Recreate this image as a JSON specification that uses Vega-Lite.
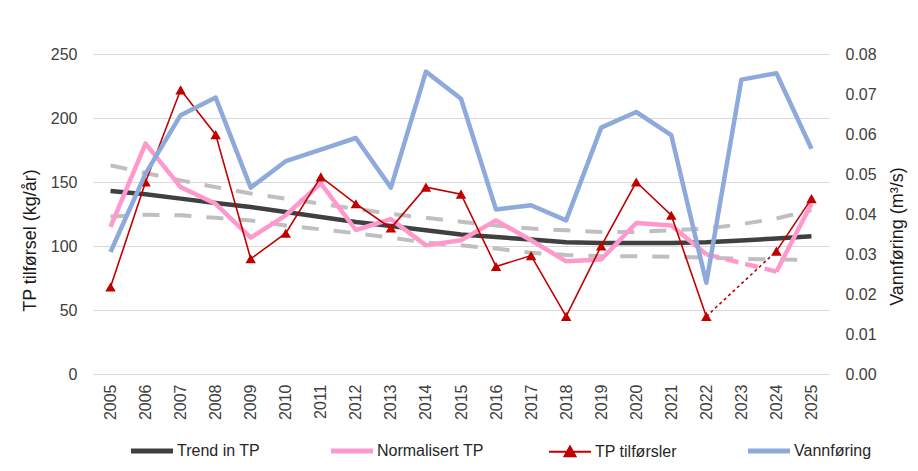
{
  "$schema": "https://vega.github.io/schema/vega-lite/v6.json",
  "autosize": "none",
  "width": 736,
  "height": 320,
  "padding": {"left": 93, "top": 54, "right": 89, "bottom": 97},
  "background": "white",
  "config": {
    "font": "Liberation Sans",
    "view": {"stroke": null},
    "axis": {"labelFont": "Liberation Sans", "titleFont": "Liberation Sans", "labelFontSize": 16, "titleFontSize": 18, "titleFontWeight": "normal", "labelColor": "#404040", "titleColor": "#1a1a1a"},
    "axisLeft": {"titleX": -63, "titleY": 186, "titleAngle": -90, "titleAlign": "center", "titleBaseline": "middle"},
    "axisRight": {"titleX": 68, "titleY": 182, "titleAngle": -90, "titleAlign": "center", "titleBaseline": "middle"}
  },
  "data": {
    "values": [
      {"year": "2005", "trend": 143, "upper": 163, "lower": 123, "norm": 115, "tp": 68, "flow": 0.0305},
      {"year": "2006", "trend": 140.4, "upper": 157, "lower": 124.5, "norm": 180, "tp": 150, "flow": 0.0501},
      {"year": "2007", "trend": 137, "upper": 151.3, "lower": 124, "norm": 146, "tp": 222, "flow": 0.0647},
      {"year": "2008", "trend": 133.6, "upper": 146, "lower": 122, "norm": 133, "tp": 187, "flow": 0.0691},
      {"year": "2009", "trend": 130.5, "upper": 141, "lower": 120, "norm": 106.5, "tp": 90, "flow": 0.0466},
      {"year": "2010", "trend": 126.6, "upper": 137, "lower": 116, "norm": 124, "tp": 110, "flow": 0.0532},
      {"year": "2011", "trend": 122.7, "upper": 133, "lower": 113, "norm": 149, "tp": 154, "flow": 0.0561},
      {"year": "2012", "trend": 118.8, "upper": 129, "lower": 110, "norm": 112.5, "tp": 133, "flow": 0.059},
      {"year": "2013", "trend": 115.7, "upper": 125, "lower": 106.5, "norm": 121, "tp": 114, "flow": 0.0466},
      {"year": "2014", "trend": 112.3, "upper": 122, "lower": 102.7, "norm": 100.5, "tp": 146, "flow": 0.0756},
      {"year": "2015", "trend": 109, "upper": 119, "lower": 100.5, "norm": 104.5, "tp": 140.5, "flow": 0.0688},
      {"year": "2016", "trend": 107, "upper": 116, "lower": 98, "norm": 120, "tp": 84, "flow": 0.0411},
      {"year": "2017", "trend": 105, "upper": 113.6, "lower": 94.7, "norm": 104.5, "tp": 92.5, "flow": 0.0422},
      {"year": "2018", "trend": 103, "upper": 112.3, "lower": 93, "norm": 88, "tp": 45, "flow": 0.0384},
      {"year": "2019", "trend": 102.4, "upper": 111, "lower": 92, "norm": 89.5, "tp": 100, "flow": 0.0616},
      {"year": "2020", "trend": 102.4, "upper": 111, "lower": 92, "norm": 118, "tp": 150, "flow": 0.0655},
      {"year": "2021", "trend": 102.4, "upper": 112.3, "lower": 91.5, "norm": 116, "tp": 124, "flow": 0.0597},
      {"year": "2022", "trend": 103, "upper": 113.6, "lower": 91, "norm": 93.5, "tp": 45, "flow": 0.0228},
      {"year": "2023", "trend": 104.3, "upper": 117, "lower": 90, "norm": null, "tp": null, "flow": 0.0736},
      {"year": "2024", "trend": 105.8, "upper": 121.5, "lower": 89.5, "norm": 80, "tp": 96, "flow": 0.0752},
      {"year": "2025", "trend": 107.6, "upper": 128, "lower": 89, "norm": 133, "tp": 137, "flow": 0.0563}
    ]
  },
  "encoding": {
    "x": {
      "field": "year", "type": "ordinal",
      "scale": {"type": "point", "padding": 0.5},
      "axis": {"title": null, "labelAngle": -90, "ticks": false, "domain": false, "grid": false, "labelPadding": 10}
    }
  },
  "layer": [
    {
      "layer": [
        {
          "mark": {"type": "line", "strokeWidth": 4, "strokeDash": [17, 15], "color": "#bfbfbf"},
          "encoding": {
            "y": {"field": "upper", "type": "quantitative", "title": "TP tilførsel (kg/år)", "scale": {"domain": [0, 250], "nice": false},
              "axis": {"values": [0, 50, 100, 150, 200, 250], "grid": true, "gridColor": "#d9d9d9", "gridWidth": 1, "domain": false, "ticks": false, "tickSize": 0, "labelPadding": 16}}
          }
        },
        {
          "mark": {"type": "line", "strokeWidth": 4, "strokeDash": [17, 15], "color": "#bfbfbf"},
          "encoding": {"y": {"field": "lower", "type": "quantitative", "title": "TP tilførsel (kg/år)", "scale": {"domain": [0, 250], "nice": false}}}
        },
        {
          "mark": {"type": "line", "strokeWidth": 4.5, "strokeJoin": "round"},
          "encoding": {
            "y": {"field": "trend", "type": "quantitative", "title": "TP tilførsel (kg/år)", "scale": {"domain": [0, 250], "nice": false}},
            "color": {"datum": "Trend in TP"}
          }
        },
        {
          "mark": {"type": "line", "strokeWidth": 4.5, "strokeJoin": "round", "invalid": "break-paths-show-domains"},
          "encoding": {
            "y": {"field": "norm", "type": "quantitative", "title": "TP tilførsel (kg/år)", "scale": {"domain": [0, 250], "nice": false}},
            "color": {"datum": "Normalisert TP"}
          }
        },
        {
          "transform": [{"filter": "datum.year == '2022' || datum.year == '2024'"}],
          "mark": {"type": "line", "strokeWidth": 4.5, "strokeDash": [13, 7]},
          "encoding": {
            "y": {"field": "norm", "type": "quantitative", "title": "TP tilførsel (kg/år)", "scale": {"domain": [0, 250], "nice": false}},
            "color": {"datum": "Normalisert TP"}
          }
        },
        {
          "mark": {"type": "line", "strokeWidth": 1.6, "invalid": "break-paths-show-domains"},
          "encoding": {
            "y": {"field": "tp", "type": "quantitative", "title": "TP tilførsel (kg/år)", "scale": {"domain": [0, 250], "nice": false}},
            "color": {"datum": "TP tilførsler"}
          }
        },
        {
          "transform": [{"filter": "datum.year == '2022' || datum.year == '2024'"}],
          "mark": {"type": "line", "strokeWidth": 1.6, "strokeDash": [3, 3]},
          "encoding": {
            "y": {"field": "tp", "type": "quantitative", "title": "TP tilførsel (kg/år)", "scale": {"domain": [0, 250], "nice": false}},
            "color": {"datum": "TP tilførsler"}
          }
        },
        {
          "transform": [{"filter": "datum.tp != null"}],
          "mark": {"type": "point", "shape": "triangle-up", "filled": true, "size": 110, "opacity": 1},
          "encoding": {
            "y": {"field": "tp", "type": "quantitative", "title": "TP tilførsel (kg/år)", "scale": {"domain": [0, 250], "nice": false}},
            "color": {"datum": "TP tilførsler"}
          }
        }
      ]
    },
    {
      "mark": {"type": "line", "strokeWidth": 4.5, "strokeJoin": "round"},
      "encoding": {
        "y": {"field": "flow", "type": "quantitative", "title": "Vannføring (m³/s)",
          "scale": {"domain": [0, 0.08], "nice": false},
          "axis": {"orient": "right", "values": [0, 0.01, 0.02, 0.03, 0.04, 0.05, 0.06, 0.07, 0.08], "format": ".2f", "grid": false, "domain": false, "ticks": false, "tickSize": 0, "labelPadding": 16}},
        "color": {
          "datum": "Vannføring",
          "scale": {"domain": ["Trend in TP", "Normalisert TP", "TP tilførsler", "Vannføring"], "range": ["#404040", "#ff99cc", "#c00000", "#8eaadb"]},
          "legend": {
            "title": null, "orient": "none", "legendX": 51, "legendY": 389, "direction": "horizontal",
            "symbolType": "stroke", "symbolSize": 1764, "symbolStrokeWidth": 5, "labelFontSize": 16, "labelColor": "#262626", "labelOffset": 17, "columnPadding": 61,
            "encode": {
              "symbols": {
                "update": {
                  "shape": {"signal": "datum.value === 'TP tilførsler' ? 'M-1,0H1M-0.26,0.22L0,-0.24L0.26,0.22Z' : 'stroke'"},
                  "fill": {"signal": "datum.value === 'TP tilførsler' ? '#c00000' : 'transparent'"},
                  "strokeWidth": {"signal": "datum.value === 'TP tilførsler' ? 2 : 5"}
                }
              }
            }
          }
        }
      }
    }
  ],
  "resolve": {"scale": {"y": "independent"}}
}
